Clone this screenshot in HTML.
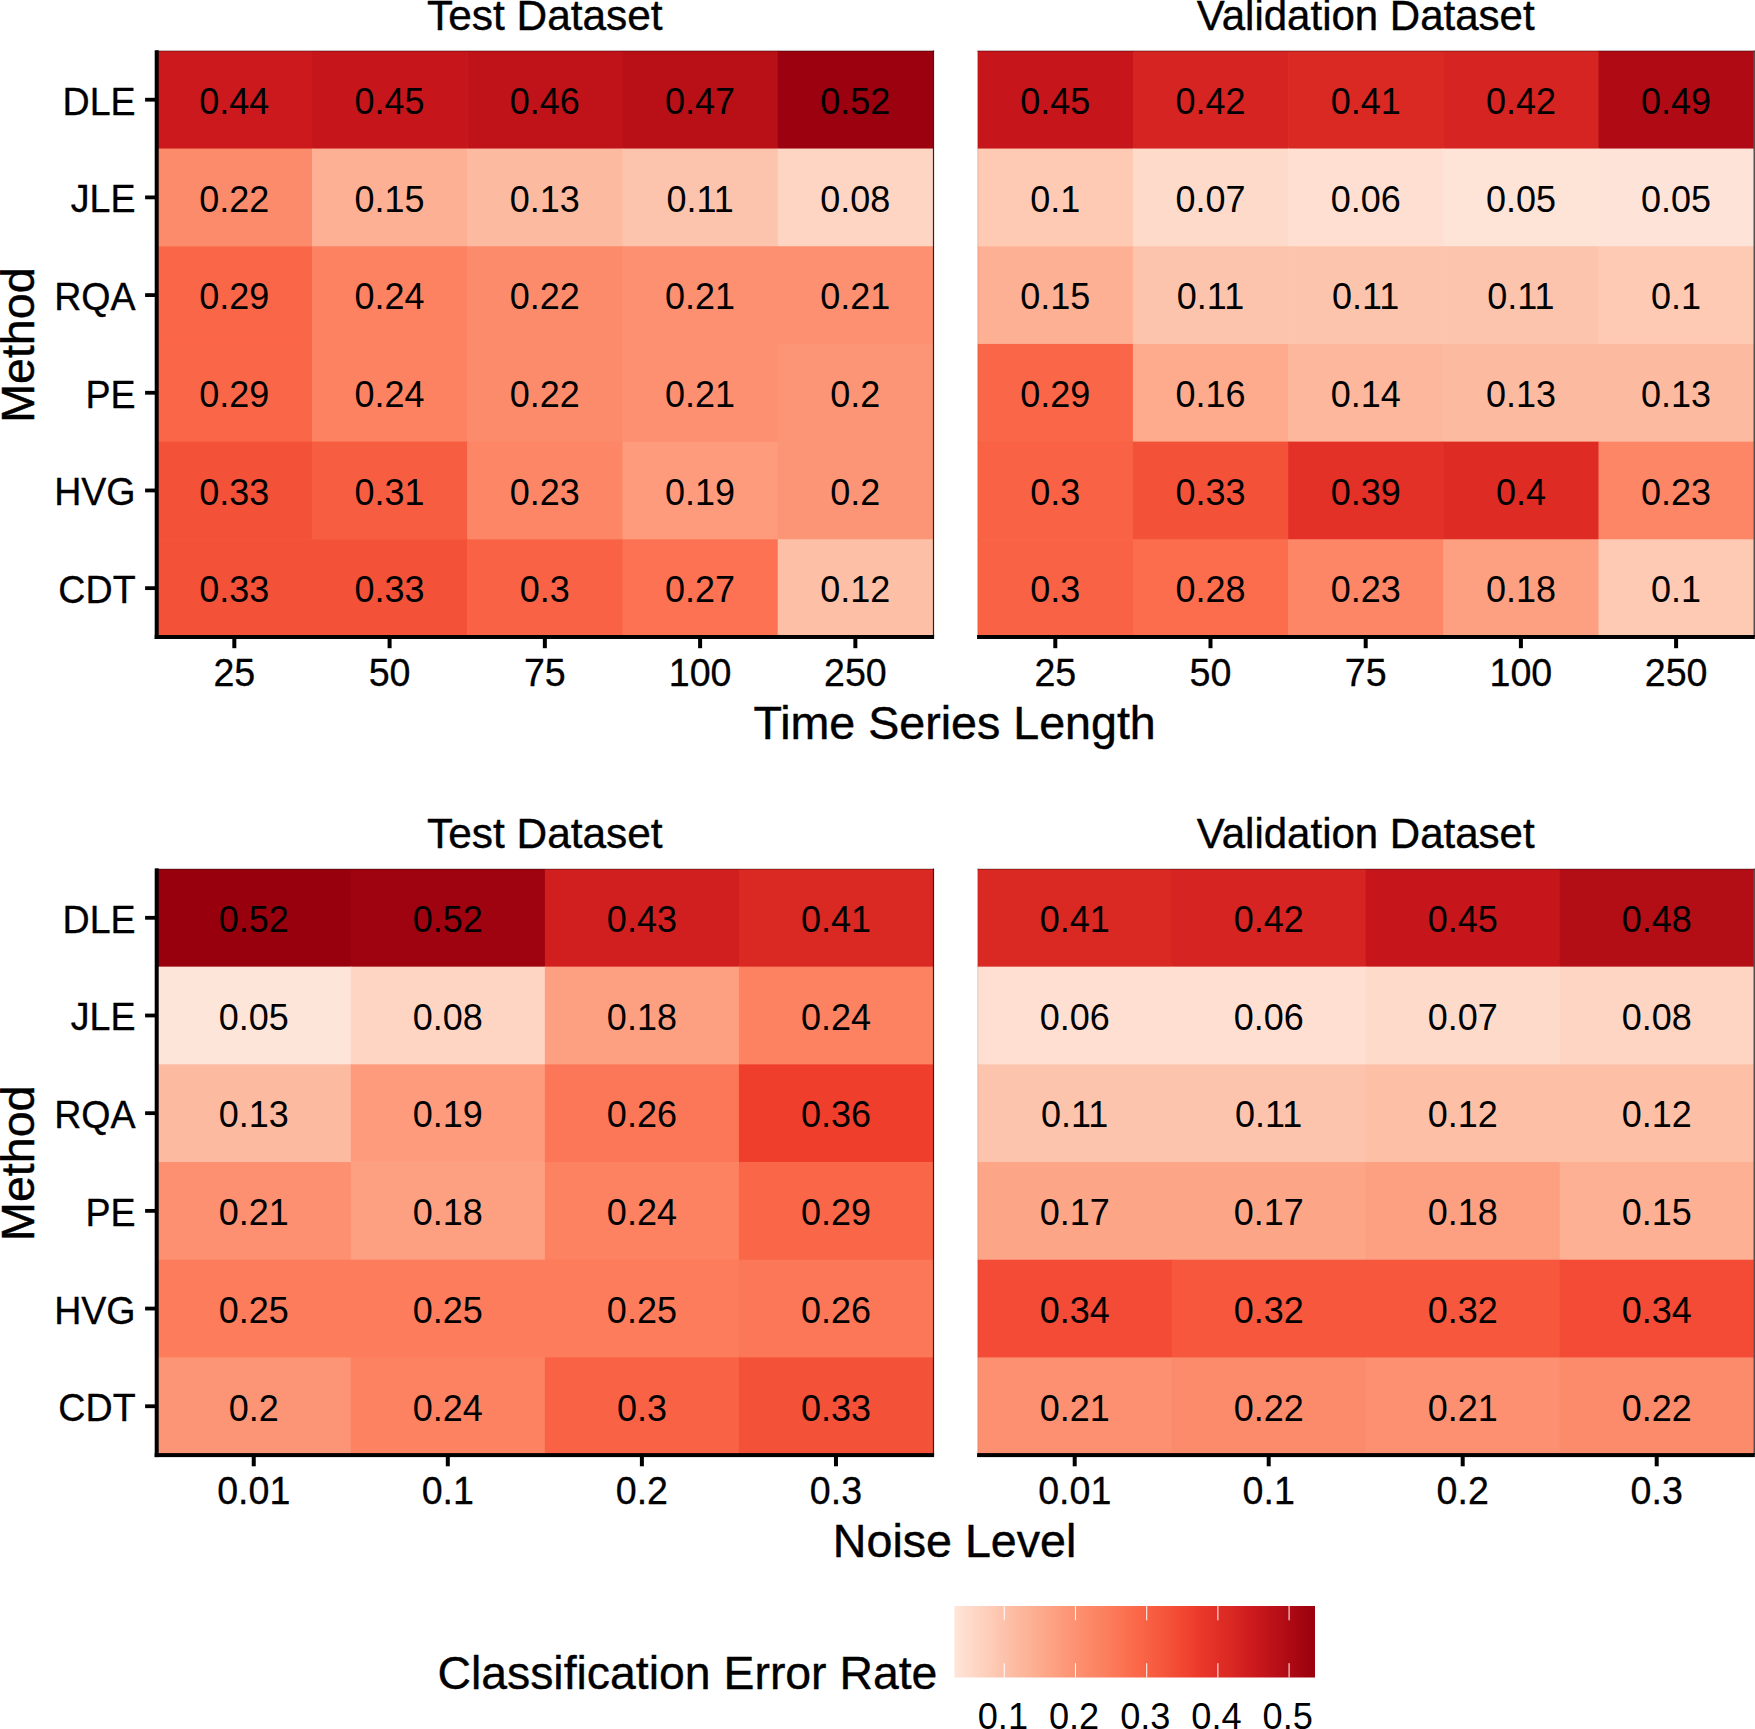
<!DOCTYPE html>
<html lang="en">
<head>
<meta charset="utf-8">
<title>Classification Error Rate heat maps</title>
<style>
html,body{margin:0;padding:0;background:#fff;}
body{width:1755px;height:1729px;overflow:hidden;}
svg{display:block;font-family:"Liberation Sans",Arial,Helvetica,sans-serif;}
</style>
</head>
<body>
<svg width="1755" height="1729" viewBox="0 0 1755 1729" shape-rendering="auto">
<rect x="0" y="0" width="1755" height="1729" fill="#fff"/>
<g>
<rect x="156.70" y="50.85" width="155.86" height="98.29" fill="#cc191d"/>
<rect x="311.96" y="50.85" width="155.86" height="98.29" fill="#c6161b"/>
<rect x="467.22" y="50.85" width="155.86" height="98.29" fill="#c01319"/>
<rect x="622.48" y="50.85" width="155.86" height="98.29" fill="#b91017"/>
<rect x="777.74" y="50.85" width="155.26" height="98.29" fill="#9b010e"/>
<rect x="156.70" y="148.54" width="155.86" height="98.29" fill="#fc8b6b"/>
<rect x="311.96" y="148.54" width="155.86" height="98.29" fill="#fdb093"/>
<rect x="467.22" y="148.54" width="155.86" height="98.29" fill="#fcbaa0"/>
<rect x="622.48" y="148.54" width="155.86" height="98.29" fill="#fdc4ad"/>
<rect x="777.74" y="148.54" width="155.26" height="98.29" fill="#fed4c3"/>
<rect x="156.70" y="246.23" width="155.86" height="98.29" fill="#fa6748"/>
<rect x="311.96" y="246.23" width="155.86" height="98.29" fill="#fc8261"/>
<rect x="467.22" y="246.23" width="155.86" height="98.29" fill="#fc8b6b"/>
<rect x="622.48" y="246.23" width="155.86" height="98.29" fill="#fc9070"/>
<rect x="777.74" y="246.23" width="155.26" height="98.29" fill="#fc9070"/>
<rect x="156.70" y="343.93" width="155.86" height="98.29" fill="#fa6748"/>
<rect x="311.96" y="343.93" width="155.86" height="98.29" fill="#fc8261"/>
<rect x="467.22" y="343.93" width="155.86" height="98.29" fill="#fc8b6b"/>
<rect x="622.48" y="343.93" width="155.86" height="98.29" fill="#fc9070"/>
<rect x="777.74" y="343.93" width="155.26" height="98.29" fill="#fc9576"/>
<rect x="156.70" y="441.62" width="155.86" height="98.29" fill="#f45139"/>
<rect x="311.96" y="441.62" width="155.86" height="98.29" fill="#f75d40"/>
<rect x="467.22" y="441.62" width="155.86" height="98.29" fill="#fc8666"/>
<rect x="622.48" y="441.62" width="155.86" height="98.29" fill="#fd9b7c"/>
<rect x="777.74" y="441.62" width="155.26" height="98.29" fill="#fc9576"/>
<rect x="156.70" y="539.31" width="155.86" height="97.69" fill="#f45139"/>
<rect x="311.96" y="539.31" width="155.86" height="97.69" fill="#f45139"/>
<rect x="467.22" y="539.31" width="155.86" height="97.69" fill="#f96244"/>
<rect x="622.48" y="539.31" width="155.86" height="97.69" fill="#fc7252"/>
<rect x="777.74" y="539.31" width="155.26" height="97.69" fill="#fdbfa6"/>
<rect x="156.20" y="50.50" width="777.90" height="1.1" fill="#000" fill-opacity="0.33"/>
<rect x="932.90" y="50.50" width="1.2" height="586.50" fill="#000" fill-opacity="0.85"/>
<g font-size="36.0" text-anchor="middle" fill="#000">
<text transform="translate(234.33 114.00) scale(1 1.045)">0.44</text>
<text transform="translate(389.59 114.00) scale(1 1.045)">0.45</text>
<text transform="translate(544.85 114.00) scale(1 1.045)">0.46</text>
<text transform="translate(700.11 114.00) scale(1 1.045)">0.47</text>
<text transform="translate(855.37 114.00) scale(1 1.045)">0.52</text>
<text transform="translate(234.33 211.69) scale(1 1.045)">0.22</text>
<text transform="translate(389.59 211.69) scale(1 1.045)">0.15</text>
<text transform="translate(544.85 211.69) scale(1 1.045)">0.13</text>
<text transform="translate(700.11 211.69) scale(1 1.045)">0.11</text>
<text transform="translate(855.37 211.69) scale(1 1.045)">0.08</text>
<text transform="translate(234.33 309.38) scale(1 1.045)">0.29</text>
<text transform="translate(389.59 309.38) scale(1 1.045)">0.24</text>
<text transform="translate(544.85 309.38) scale(1 1.045)">0.22</text>
<text transform="translate(700.11 309.38) scale(1 1.045)">0.21</text>
<text transform="translate(855.37 309.38) scale(1 1.045)">0.21</text>
<text transform="translate(234.33 407.07) scale(1 1.045)">0.29</text>
<text transform="translate(389.59 407.07) scale(1 1.045)">0.24</text>
<text transform="translate(544.85 407.07) scale(1 1.045)">0.22</text>
<text transform="translate(700.11 407.07) scale(1 1.045)">0.21</text>
<text transform="translate(855.37 407.07) scale(1 1.045)">0.2</text>
<text transform="translate(234.33 504.76) scale(1 1.045)">0.33</text>
<text transform="translate(389.59 504.76) scale(1 1.045)">0.31</text>
<text transform="translate(544.85 504.76) scale(1 1.045)">0.23</text>
<text transform="translate(700.11 504.76) scale(1 1.045)">0.19</text>
<text transform="translate(855.37 504.76) scale(1 1.045)">0.2</text>
<text transform="translate(234.33 602.45) scale(1 1.045)">0.33</text>
<text transform="translate(389.59 602.45) scale(1 1.045)">0.33</text>
<text transform="translate(544.85 602.45) scale(1 1.045)">0.3</text>
<text transform="translate(700.11 602.45) scale(1 1.045)">0.27</text>
<text transform="translate(855.37 602.45) scale(1 1.045)">0.12</text>
</g>
<rect x="154.70" y="635.00" width="779.40" height="4.00" fill="#000"/>
<g font-size="37.6" text-anchor="middle" fill="#000">
<rect x="232.33" y="638.50" width="4.00" height="9.70" fill="#000"/>
<text transform="translate(234.33 685.80) scale(1 1.035)" stroke="#000" stroke-width="0.30" stroke-linejoin="round">25</text>
<rect x="387.59" y="638.50" width="4.00" height="9.70" fill="#000"/>
<text transform="translate(389.59 685.80) scale(1 1.035)" stroke="#000" stroke-width="0.30" stroke-linejoin="round">50</text>
<rect x="542.85" y="638.50" width="4.00" height="9.70" fill="#000"/>
<text transform="translate(544.85 685.80) scale(1 1.035)" stroke="#000" stroke-width="0.30" stroke-linejoin="round">75</text>
<rect x="698.11" y="638.50" width="4.00" height="9.70" fill="#000"/>
<text transform="translate(700.11 685.80) scale(1 1.035)" stroke="#000" stroke-width="0.30" stroke-linejoin="round">100</text>
<rect x="853.37" y="638.50" width="4.00" height="9.70" fill="#000"/>
<text transform="translate(855.37 685.80) scale(1 1.035)" stroke="#000" stroke-width="0.30" stroke-linejoin="round">250</text>
</g>
<rect x="154.70" y="50.25" width="4.00" height="588.75" fill="#000"/>
<g font-size="37.6" text-anchor="end" fill="#000">
<rect x="145.10" y="97.80" width="10.10" height="3.80" fill="#000"/>
<text transform="translate(135.60 114.70) scale(1 1.022)" stroke="#000" stroke-width="0.30" stroke-linejoin="round">DLE</text>
<rect x="145.10" y="195.49" width="10.10" height="3.80" fill="#000"/>
<text transform="translate(135.60 212.39) scale(1 1.022)" stroke="#000" stroke-width="0.30" stroke-linejoin="round">JLE</text>
<rect x="145.10" y="293.18" width="10.10" height="3.80" fill="#000"/>
<text transform="translate(135.60 310.08) scale(1 1.022)" stroke="#000" stroke-width="0.30" stroke-linejoin="round">RQA</text>
<rect x="145.10" y="390.87" width="10.10" height="3.80" fill="#000"/>
<text transform="translate(135.60 407.77) scale(1 1.022)" stroke="#000" stroke-width="0.30" stroke-linejoin="round">PE</text>
<rect x="145.10" y="488.56" width="10.10" height="3.80" fill="#000"/>
<text transform="translate(135.60 505.46) scale(1 1.022)" stroke="#000" stroke-width="0.30" stroke-linejoin="round">HVG</text>
<rect x="145.10" y="586.25" width="10.10" height="3.80" fill="#000"/>
<text transform="translate(135.60 603.15) scale(1 1.022)" stroke="#000" stroke-width="0.30" stroke-linejoin="round">CDT</text>
</g>
<text transform="translate(544.85 29.95) scale(1 1.000)" font-size="42.4" text-anchor="middle" fill="#000" stroke="#000" stroke-width="0.40" stroke-linejoin="round">Test Dataset</text>
</g>
<g>
<rect x="977.70" y="50.85" width="155.80" height="98.29" fill="#c6161b"/>
<rect x="1132.90" y="50.85" width="155.80" height="98.29" fill="#d52421"/>
<rect x="1288.10" y="50.85" width="155.80" height="98.29" fill="#da2823"/>
<rect x="1443.30" y="50.85" width="155.80" height="98.29" fill="#d52421"/>
<rect x="1598.50" y="50.85" width="155.20" height="98.29" fill="#b00b14"/>
<rect x="977.70" y="148.54" width="155.80" height="98.29" fill="#fecab4"/>
<rect x="1132.90" y="148.54" width="155.80" height="98.29" fill="#fedaca"/>
<rect x="1288.10" y="148.54" width="155.80" height="98.29" fill="#fedfd1"/>
<rect x="1443.30" y="148.54" width="155.80" height="98.29" fill="#fee3d7"/>
<rect x="1598.50" y="148.54" width="155.20" height="98.29" fill="#fee4d8"/>
<rect x="977.70" y="246.23" width="155.80" height="98.29" fill="#fdb093"/>
<rect x="1132.90" y="246.23" width="155.80" height="98.29" fill="#fdc4ad"/>
<rect x="1288.10" y="246.23" width="155.80" height="98.29" fill="#fdc4ad"/>
<rect x="1443.30" y="246.23" width="155.80" height="98.29" fill="#fdc4ad"/>
<rect x="1598.50" y="246.23" width="155.20" height="98.29" fill="#fecab4"/>
<rect x="977.70" y="343.93" width="155.80" height="98.29" fill="#fa6748"/>
<rect x="1132.90" y="343.93" width="155.80" height="98.29" fill="#fdaa8d"/>
<rect x="1288.10" y="343.93" width="155.80" height="98.29" fill="#fcb79c"/>
<rect x="1443.30" y="343.93" width="155.80" height="98.29" fill="#fcbaa0"/>
<rect x="1598.50" y="343.93" width="155.20" height="98.29" fill="#fcbaa0"/>
<rect x="977.70" y="441.62" width="155.80" height="98.29" fill="#f96244"/>
<rect x="1132.90" y="441.62" width="155.80" height="98.29" fill="#f45139"/>
<rect x="1288.10" y="441.62" width="155.80" height="98.29" fill="#e33127"/>
<rect x="1443.30" y="441.62" width="155.80" height="98.29" fill="#de2c25"/>
<rect x="1598.50" y="441.62" width="155.20" height="98.29" fill="#fc8666"/>
<rect x="977.70" y="539.31" width="155.80" height="97.69" fill="#f96244"/>
<rect x="1132.90" y="539.31" width="155.80" height="97.69" fill="#fb6d4d"/>
<rect x="1288.10" y="539.31" width="155.80" height="97.69" fill="#fc8666"/>
<rect x="1443.30" y="539.31" width="155.80" height="97.69" fill="#fda082"/>
<rect x="1598.50" y="539.31" width="155.20" height="97.69" fill="#fecab4"/>
<rect x="977.20" y="50.50" width="777.60" height="1.1" fill="#000" fill-opacity="0.33"/>
<rect x="1753.60" y="50.50" width="1.2" height="586.50" fill="#000" fill-opacity="0.85"/>
<rect x="977.30" y="50.50" width="1.0" height="586.50" fill="#000" fill-opacity="0.14"/>
<g font-size="36.0" text-anchor="middle" fill="#000">
<text transform="translate(1055.30 114.00) scale(1 1.045)">0.45</text>
<text transform="translate(1210.50 114.00) scale(1 1.045)">0.42</text>
<text transform="translate(1365.70 114.00) scale(1 1.045)">0.41</text>
<text transform="translate(1520.90 114.00) scale(1 1.045)">0.42</text>
<text transform="translate(1676.10 114.00) scale(1 1.045)">0.49</text>
<text transform="translate(1055.30 211.69) scale(1 1.045)">0.1</text>
<text transform="translate(1210.50 211.69) scale(1 1.045)">0.07</text>
<text transform="translate(1365.70 211.69) scale(1 1.045)">0.06</text>
<text transform="translate(1520.90 211.69) scale(1 1.045)">0.05</text>
<text transform="translate(1676.10 211.69) scale(1 1.045)">0.05</text>
<text transform="translate(1055.30 309.38) scale(1 1.045)">0.15</text>
<text transform="translate(1210.50 309.38) scale(1 1.045)">0.11</text>
<text transform="translate(1365.70 309.38) scale(1 1.045)">0.11</text>
<text transform="translate(1520.90 309.38) scale(1 1.045)">0.11</text>
<text transform="translate(1676.10 309.38) scale(1 1.045)">0.1</text>
<text transform="translate(1055.30 407.07) scale(1 1.045)">0.29</text>
<text transform="translate(1210.50 407.07) scale(1 1.045)">0.16</text>
<text transform="translate(1365.70 407.07) scale(1 1.045)">0.14</text>
<text transform="translate(1520.90 407.07) scale(1 1.045)">0.13</text>
<text transform="translate(1676.10 407.07) scale(1 1.045)">0.13</text>
<text transform="translate(1055.30 504.76) scale(1 1.045)">0.3</text>
<text transform="translate(1210.50 504.76) scale(1 1.045)">0.33</text>
<text transform="translate(1365.70 504.76) scale(1 1.045)">0.39</text>
<text transform="translate(1520.90 504.76) scale(1 1.045)">0.4</text>
<text transform="translate(1676.10 504.76) scale(1 1.045)">0.23</text>
<text transform="translate(1055.30 602.45) scale(1 1.045)">0.3</text>
<text transform="translate(1210.50 602.45) scale(1 1.045)">0.28</text>
<text transform="translate(1365.70 602.45) scale(1 1.045)">0.23</text>
<text transform="translate(1520.90 602.45) scale(1 1.045)">0.18</text>
<text transform="translate(1676.10 602.45) scale(1 1.045)">0.1</text>
</g>
<rect x="977.10" y="635.00" width="777.70" height="4.00" fill="#000"/>
<g font-size="37.6" text-anchor="middle" fill="#000">
<rect x="1053.30" y="638.50" width="4.00" height="9.70" fill="#000"/>
<text transform="translate(1055.30 685.80) scale(1 1.035)" stroke="#000" stroke-width="0.30" stroke-linejoin="round">25</text>
<rect x="1208.50" y="638.50" width="4.00" height="9.70" fill="#000"/>
<text transform="translate(1210.50 685.80) scale(1 1.035)" stroke="#000" stroke-width="0.30" stroke-linejoin="round">50</text>
<rect x="1363.70" y="638.50" width="4.00" height="9.70" fill="#000"/>
<text transform="translate(1365.70 685.80) scale(1 1.035)" stroke="#000" stroke-width="0.30" stroke-linejoin="round">75</text>
<rect x="1518.90" y="638.50" width="4.00" height="9.70" fill="#000"/>
<text transform="translate(1520.90 685.80) scale(1 1.035)" stroke="#000" stroke-width="0.30" stroke-linejoin="round">100</text>
<rect x="1674.10" y="638.50" width="4.00" height="9.70" fill="#000"/>
<text transform="translate(1676.10 685.80) scale(1 1.035)" stroke="#000" stroke-width="0.30" stroke-linejoin="round">250</text>
</g>
<text transform="translate(1365.70 29.95) scale(1 1.000)" font-size="42.0" text-anchor="middle" fill="#000" stroke="#000" stroke-width="0.40" stroke-linejoin="round">Validation Dataset</text>
</g>
<g>
<rect x="156.70" y="868.95" width="194.67" height="98.29" fill="#99000d"/>
<rect x="350.77" y="868.95" width="194.67" height="98.29" fill="#9f030f"/>
<rect x="544.85" y="868.95" width="194.67" height="98.29" fill="#d11f1f"/>
<rect x="738.92" y="868.95" width="194.07" height="98.29" fill="#da2823"/>
<rect x="156.70" y="966.64" width="194.67" height="98.29" fill="#fee5d9"/>
<rect x="350.77" y="966.64" width="194.67" height="98.29" fill="#fed4c3"/>
<rect x="544.85" y="966.64" width="194.67" height="98.29" fill="#fda082"/>
<rect x="738.92" y="966.64" width="194.07" height="98.29" fill="#fc8261"/>
<rect x="156.70" y="1064.33" width="194.67" height="98.29" fill="#fcbaa0"/>
<rect x="350.77" y="1064.33" width="194.67" height="98.29" fill="#fd9b7c"/>
<rect x="544.85" y="1064.33" width="194.67" height="98.29" fill="#fc7757"/>
<rect x="738.92" y="1064.33" width="194.07" height="98.29" fill="#f03e2d"/>
<rect x="156.70" y="1162.03" width="194.67" height="98.29" fill="#fc9070"/>
<rect x="350.77" y="1162.03" width="194.67" height="98.29" fill="#fda082"/>
<rect x="544.85" y="1162.03" width="194.67" height="98.29" fill="#fc8261"/>
<rect x="738.92" y="1162.03" width="194.07" height="98.29" fill="#fa6748"/>
<rect x="156.70" y="1259.72" width="194.67" height="98.29" fill="#fc7c5c"/>
<rect x="350.77" y="1259.72" width="194.67" height="98.29" fill="#fc7c5c"/>
<rect x="544.85" y="1259.72" width="194.67" height="98.29" fill="#fc7c5c"/>
<rect x="738.92" y="1259.72" width="194.07" height="98.29" fill="#fc7757"/>
<rect x="156.70" y="1357.41" width="194.67" height="97.69" fill="#fc9576"/>
<rect x="350.77" y="1357.41" width="194.67" height="97.69" fill="#fc8261"/>
<rect x="544.85" y="1357.41" width="194.67" height="97.69" fill="#f96244"/>
<rect x="738.92" y="1357.41" width="194.07" height="97.69" fill="#f45139"/>
<rect x="156.20" y="868.60" width="777.90" height="1.1" fill="#000" fill-opacity="0.33"/>
<rect x="932.90" y="868.60" width="1.2" height="586.50" fill="#000" fill-opacity="0.85"/>
<g font-size="36.0" text-anchor="middle" fill="#000">
<text transform="translate(253.74 932.10) scale(1 1.045)">0.52</text>
<text transform="translate(447.81 932.10) scale(1 1.045)">0.52</text>
<text transform="translate(641.89 932.10) scale(1 1.045)">0.43</text>
<text transform="translate(835.96 932.10) scale(1 1.045)">0.41</text>
<text transform="translate(253.74 1029.79) scale(1 1.045)">0.05</text>
<text transform="translate(447.81 1029.79) scale(1 1.045)">0.08</text>
<text transform="translate(641.89 1029.79) scale(1 1.045)">0.18</text>
<text transform="translate(835.96 1029.79) scale(1 1.045)">0.24</text>
<text transform="translate(253.74 1127.48) scale(1 1.045)">0.13</text>
<text transform="translate(447.81 1127.48) scale(1 1.045)">0.19</text>
<text transform="translate(641.89 1127.48) scale(1 1.045)">0.26</text>
<text transform="translate(835.96 1127.48) scale(1 1.045)">0.36</text>
<text transform="translate(253.74 1225.17) scale(1 1.045)">0.21</text>
<text transform="translate(447.81 1225.17) scale(1 1.045)">0.18</text>
<text transform="translate(641.89 1225.17) scale(1 1.045)">0.24</text>
<text transform="translate(835.96 1225.17) scale(1 1.045)">0.29</text>
<text transform="translate(253.74 1322.86) scale(1 1.045)">0.25</text>
<text transform="translate(447.81 1322.86) scale(1 1.045)">0.25</text>
<text transform="translate(641.89 1322.86) scale(1 1.045)">0.25</text>
<text transform="translate(835.96 1322.86) scale(1 1.045)">0.26</text>
<text transform="translate(253.74 1420.55) scale(1 1.045)">0.2</text>
<text transform="translate(447.81 1420.55) scale(1 1.045)">0.24</text>
<text transform="translate(641.89 1420.55) scale(1 1.045)">0.3</text>
<text transform="translate(835.96 1420.55) scale(1 1.045)">0.33</text>
</g>
<rect x="154.70" y="1453.10" width="779.40" height="4.00" fill="#000"/>
<g font-size="37.6" text-anchor="middle" fill="#000">
<rect x="251.74" y="1456.60" width="4.00" height="9.70" fill="#000"/>
<text transform="translate(253.74 1503.90) scale(1 1.035)" stroke="#000" stroke-width="0.30" stroke-linejoin="round">0.01</text>
<rect x="445.81" y="1456.60" width="4.00" height="9.70" fill="#000"/>
<text transform="translate(447.81 1503.90) scale(1 1.035)" stroke="#000" stroke-width="0.30" stroke-linejoin="round">0.1</text>
<rect x="639.89" y="1456.60" width="4.00" height="9.70" fill="#000"/>
<text transform="translate(641.89 1503.90) scale(1 1.035)" stroke="#000" stroke-width="0.30" stroke-linejoin="round">0.2</text>
<rect x="833.96" y="1456.60" width="4.00" height="9.70" fill="#000"/>
<text transform="translate(835.96 1503.90) scale(1 1.035)" stroke="#000" stroke-width="0.30" stroke-linejoin="round">0.3</text>
</g>
<rect x="154.70" y="868.35" width="4.00" height="588.75" fill="#000"/>
<g font-size="37.6" text-anchor="end" fill="#000">
<rect x="145.10" y="915.90" width="10.10" height="3.80" fill="#000"/>
<text transform="translate(135.60 932.80) scale(1 1.022)" stroke="#000" stroke-width="0.30" stroke-linejoin="round">DLE</text>
<rect x="145.10" y="1013.59" width="10.10" height="3.80" fill="#000"/>
<text transform="translate(135.60 1030.49) scale(1 1.022)" stroke="#000" stroke-width="0.30" stroke-linejoin="round">JLE</text>
<rect x="145.10" y="1111.28" width="10.10" height="3.80" fill="#000"/>
<text transform="translate(135.60 1128.18) scale(1 1.022)" stroke="#000" stroke-width="0.30" stroke-linejoin="round">RQA</text>
<rect x="145.10" y="1208.97" width="10.10" height="3.80" fill="#000"/>
<text transform="translate(135.60 1225.87) scale(1 1.022)" stroke="#000" stroke-width="0.30" stroke-linejoin="round">PE</text>
<rect x="145.10" y="1306.66" width="10.10" height="3.80" fill="#000"/>
<text transform="translate(135.60 1323.56) scale(1 1.022)" stroke="#000" stroke-width="0.30" stroke-linejoin="round">HVG</text>
<rect x="145.10" y="1404.35" width="10.10" height="3.80" fill="#000"/>
<text transform="translate(135.60 1421.25) scale(1 1.022)" stroke="#000" stroke-width="0.30" stroke-linejoin="round">CDT</text>
</g>
<text transform="translate(544.85 848.05) scale(1 1.000)" font-size="42.4" text-anchor="middle" fill="#000" stroke="#000" stroke-width="0.40" stroke-linejoin="round">Test Dataset</text>
</g>
<g>
<rect x="977.70" y="868.95" width="194.60" height="98.29" fill="#da2823"/>
<rect x="1171.70" y="868.95" width="194.60" height="98.29" fill="#d52421"/>
<rect x="1365.70" y="868.95" width="194.60" height="98.29" fill="#c6161b"/>
<rect x="1559.70" y="868.95" width="194.00" height="98.29" fill="#b30d15"/>
<rect x="977.70" y="966.64" width="194.60" height="98.29" fill="#fedfd1"/>
<rect x="1171.70" y="966.64" width="194.60" height="98.29" fill="#fedfd1"/>
<rect x="1365.70" y="966.64" width="194.60" height="98.29" fill="#fedaca"/>
<rect x="1559.70" y="966.64" width="194.00" height="98.29" fill="#fed4c3"/>
<rect x="977.70" y="1064.33" width="194.60" height="98.29" fill="#fdc4ad"/>
<rect x="1171.70" y="1064.33" width="194.60" height="98.29" fill="#fdc4ad"/>
<rect x="1365.70" y="1064.33" width="194.60" height="98.29" fill="#fdbfa6"/>
<rect x="1559.70" y="1064.33" width="194.00" height="98.29" fill="#fdbfa6"/>
<rect x="977.70" y="1162.03" width="194.60" height="98.29" fill="#fda587"/>
<rect x="1171.70" y="1162.03" width="194.60" height="98.29" fill="#fda587"/>
<rect x="1365.70" y="1162.03" width="194.60" height="98.29" fill="#fda082"/>
<rect x="1559.70" y="1162.03" width="194.00" height="98.29" fill="#fdb093"/>
<rect x="977.70" y="1259.72" width="194.60" height="98.29" fill="#f34b35"/>
<rect x="1171.70" y="1259.72" width="194.60" height="98.29" fill="#f6573d"/>
<rect x="1365.70" y="1259.72" width="194.60" height="98.29" fill="#f6573d"/>
<rect x="1559.70" y="1259.72" width="194.00" height="98.29" fill="#f34b35"/>
<rect x="977.70" y="1357.41" width="194.60" height="97.69" fill="#fc9070"/>
<rect x="1171.70" y="1357.41" width="194.60" height="97.69" fill="#fc8b6b"/>
<rect x="1365.70" y="1357.41" width="194.60" height="97.69" fill="#fc9070"/>
<rect x="1559.70" y="1357.41" width="194.00" height="97.69" fill="#fc8b6b"/>
<rect x="977.20" y="868.60" width="777.60" height="1.1" fill="#000" fill-opacity="0.33"/>
<rect x="1753.60" y="868.60" width="1.2" height="586.50" fill="#000" fill-opacity="0.85"/>
<rect x="977.30" y="868.60" width="1.0" height="586.50" fill="#000" fill-opacity="0.14"/>
<g font-size="36.0" text-anchor="middle" fill="#000">
<text transform="translate(1074.70 932.10) scale(1 1.045)">0.41</text>
<text transform="translate(1268.70 932.10) scale(1 1.045)">0.42</text>
<text transform="translate(1462.70 932.10) scale(1 1.045)">0.45</text>
<text transform="translate(1656.70 932.10) scale(1 1.045)">0.48</text>
<text transform="translate(1074.70 1029.79) scale(1 1.045)">0.06</text>
<text transform="translate(1268.70 1029.79) scale(1 1.045)">0.06</text>
<text transform="translate(1462.70 1029.79) scale(1 1.045)">0.07</text>
<text transform="translate(1656.70 1029.79) scale(1 1.045)">0.08</text>
<text transform="translate(1074.70 1127.48) scale(1 1.045)">0.11</text>
<text transform="translate(1268.70 1127.48) scale(1 1.045)">0.11</text>
<text transform="translate(1462.70 1127.48) scale(1 1.045)">0.12</text>
<text transform="translate(1656.70 1127.48) scale(1 1.045)">0.12</text>
<text transform="translate(1074.70 1225.17) scale(1 1.045)">0.17</text>
<text transform="translate(1268.70 1225.17) scale(1 1.045)">0.17</text>
<text transform="translate(1462.70 1225.17) scale(1 1.045)">0.18</text>
<text transform="translate(1656.70 1225.17) scale(1 1.045)">0.15</text>
<text transform="translate(1074.70 1322.86) scale(1 1.045)">0.34</text>
<text transform="translate(1268.70 1322.86) scale(1 1.045)">0.32</text>
<text transform="translate(1462.70 1322.86) scale(1 1.045)">0.32</text>
<text transform="translate(1656.70 1322.86) scale(1 1.045)">0.34</text>
<text transform="translate(1074.70 1420.55) scale(1 1.045)">0.21</text>
<text transform="translate(1268.70 1420.55) scale(1 1.045)">0.22</text>
<text transform="translate(1462.70 1420.55) scale(1 1.045)">0.21</text>
<text transform="translate(1656.70 1420.55) scale(1 1.045)">0.22</text>
</g>
<rect x="977.10" y="1453.10" width="777.70" height="4.00" fill="#000"/>
<g font-size="37.6" text-anchor="middle" fill="#000">
<rect x="1072.70" y="1456.60" width="4.00" height="9.70" fill="#000"/>
<text transform="translate(1074.70 1503.90) scale(1 1.035)" stroke="#000" stroke-width="0.30" stroke-linejoin="round">0.01</text>
<rect x="1266.70" y="1456.60" width="4.00" height="9.70" fill="#000"/>
<text transform="translate(1268.70 1503.90) scale(1 1.035)" stroke="#000" stroke-width="0.30" stroke-linejoin="round">0.1</text>
<rect x="1460.70" y="1456.60" width="4.00" height="9.70" fill="#000"/>
<text transform="translate(1462.70 1503.90) scale(1 1.035)" stroke="#000" stroke-width="0.30" stroke-linejoin="round">0.2</text>
<rect x="1654.70" y="1456.60" width="4.00" height="9.70" fill="#000"/>
<text transform="translate(1656.70 1503.90) scale(1 1.035)" stroke="#000" stroke-width="0.30" stroke-linejoin="round">0.3</text>
</g>
<text transform="translate(1365.70 848.05) scale(1 1.000)" font-size="42.0" text-anchor="middle" fill="#000" stroke="#000" stroke-width="0.40" stroke-linejoin="round">Validation Dataset</text>
</g>
<g font-size="46.6" fill="#000" text-anchor="middle">
<text transform="translate(954.60 738.60) scale(1 1.012)" stroke="#000" stroke-width="0.45" stroke-linejoin="round">Time Series Length</text>
<text transform="translate(954.60 1556.70) scale(1 1.012)" stroke="#000" stroke-width="0.45" stroke-linejoin="round">Noise Level</text>
<text transform="translate(34.20 345.10) rotate(-90) scale(1 0.985)" stroke="#000" stroke-width="0.45" stroke-linejoin="round">Method</text>
<text transform="translate(34.20 1163.20) rotate(-90) scale(1 0.985)" stroke="#000" stroke-width="0.45" stroke-linejoin="round">Method</text>
</g>
<defs><linearGradient id="lg" x1="0" x2="1" y1="0" y2="0">
<stop offset="0.0000" stop-color="#fee5d9"/>
<stop offset="0.0250" stop-color="#fedfd0"/>
<stop offset="0.0500" stop-color="#fed8c8"/>
<stop offset="0.0750" stop-color="#fed2c0"/>
<stop offset="0.1000" stop-color="#feccb7"/>
<stop offset="0.1250" stop-color="#fdc5af"/>
<stop offset="0.1500" stop-color="#fdbfa6"/>
<stop offset="0.1750" stop-color="#fcb99f"/>
<stop offset="0.2000" stop-color="#fdb397"/>
<stop offset="0.2250" stop-color="#fdad90"/>
<stop offset="0.2500" stop-color="#fda789"/>
<stop offset="0.2750" stop-color="#fda182"/>
<stop offset="0.3000" stop-color="#fc9a7b"/>
<stop offset="0.3250" stop-color="#fc9474"/>
<stop offset="0.3500" stop-color="#fc8e6e"/>
<stop offset="0.3750" stop-color="#fc8868"/>
<stop offset="0.4000" stop-color="#fc8362"/>
<stop offset="0.4250" stop-color="#fc7d5c"/>
<stop offset="0.4500" stop-color="#fc7756"/>
<stop offset="0.4750" stop-color="#fb7050"/>
<stop offset="0.5000" stop-color="#fb6a4a"/>
<stop offset="0.5250" stop-color="#f96445"/>
<stop offset="0.5500" stop-color="#f85d41"/>
<stop offset="0.5750" stop-color="#f6573c"/>
<stop offset="0.6000" stop-color="#f45038"/>
<stop offset="0.6250" stop-color="#f24833"/>
<stop offset="0.6500" stop-color="#f0412f"/>
<stop offset="0.6750" stop-color="#ed392b"/>
<stop offset="0.7000" stop-color="#e83529"/>
<stop offset="0.7250" stop-color="#e23027"/>
<stop offset="0.7500" stop-color="#dd2b24"/>
<stop offset="0.7750" stop-color="#d82622"/>
<stop offset="0.8000" stop-color="#d22020"/>
<stop offset="0.8250" stop-color="#cd1a1e"/>
<stop offset="0.8500" stop-color="#c6161b"/>
<stop offset="0.8750" stop-color="#be1219"/>
<stop offset="0.9000" stop-color="#b70f17"/>
<stop offset="0.9250" stop-color="#af0b14"/>
<stop offset="0.9500" stop-color="#a80712"/>
<stop offset="0.9750" stop-color="#a0030f"/>
<stop offset="1.0000" stop-color="#99000d"/>
</linearGradient></defs>
<rect x="954.5" y="1606.0" width="360.5" height="71.5" fill="url(#lg)"/>
<g font-size="36.2" text-anchor="middle" fill="#000">
<rect x="1003.72" y="1606.0" width="1.1" height="14.3" fill="#fff" fill-opacity="0.9"/>
<rect x="1003.72" y="1663.2" width="1.1" height="14.3" fill="#fff" fill-opacity="0.9"/>
<text transform="translate(1002.87 1728.60) scale(1 1.035)">0.1</text>
<rect x="1074.92" y="1606.0" width="1.1" height="14.3" fill="#fff" fill-opacity="0.9"/>
<rect x="1074.92" y="1663.2" width="1.1" height="14.3" fill="#fff" fill-opacity="0.9"/>
<text transform="translate(1074.07 1728.60) scale(1 1.035)">0.2</text>
<rect x="1146.13" y="1606.0" width="1.1" height="14.3" fill="#fff" fill-opacity="0.9"/>
<rect x="1146.13" y="1663.2" width="1.1" height="14.3" fill="#fff" fill-opacity="0.9"/>
<text transform="translate(1145.28 1728.60) scale(1 1.035)">0.3</text>
<rect x="1217.33" y="1606.0" width="1.1" height="14.3" fill="#fff" fill-opacity="0.9"/>
<rect x="1217.33" y="1663.2" width="1.1" height="14.3" fill="#fff" fill-opacity="0.9"/>
<text transform="translate(1216.48 1728.60) scale(1 1.035)">0.4</text>
<rect x="1288.53" y="1606.0" width="1.1" height="14.3" fill="#fff" fill-opacity="0.9"/>
<rect x="1288.53" y="1663.2" width="1.1" height="14.3" fill="#fff" fill-opacity="0.9"/>
<text transform="translate(1287.68 1728.60) scale(1 1.035)">0.5</text>
</g>
<text transform="translate(437.40 1688.60) scale(1 1.012)" font-size="46.4" fill="#000" text-anchor="start" stroke="#000" stroke-width="0.35" stroke-linejoin="round">Classification Error Rate</text>
</svg>
</body>
</html>
